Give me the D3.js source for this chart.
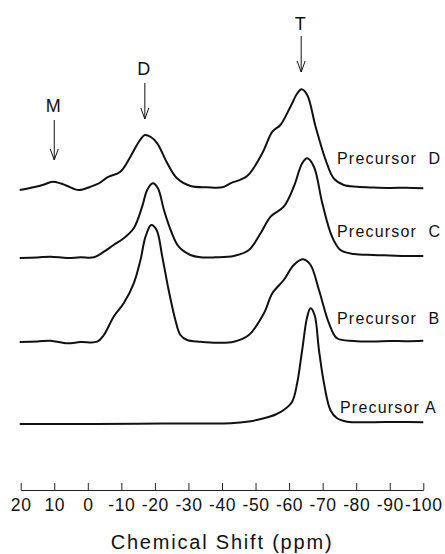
<!DOCTYPE html>
<html>
<head>
<meta charset="utf-8">
<script src="https://cdn.jsdelivr.net/npm/d3@7"></script>
<style>
  body { margin: 0; background: #fff; }
  svg text { font-family: "Liberation Sans", Arial, sans-serif; fill: #111; }
</style>
</head>
<body>
<svg id="chart" width="445" height="554"></svg>
<script>
// x axis ticks (ppm)
const ppmTicks = [20, 10, 0, -10, -20, -30, -40, -50, -60, -70, -80, -90, -100];

// peak markers
const peakLabels = ['M', 'D', 'T'];
const peakShifts = [10, -17, -63.6];

// spectra: [ppm, intensity above own baseline]
const precursorD = [
  [20.3, 0], [16.2, 2.7], [13, 5.5], [10.6, 8.3], [8, 6.5], [6.1, 4], [2.7, 0], [-0.8, 3.3],
  [-3.5, 7], [-5.8, 12.7], [-9.7, 18.3], [-12.7, 33.3], [-15, 47], [-17.0, 55], [-18.8, 53],
  [-20.7, 46.7], [-23.7, 26.7], [-26.6, 11.7], [-30.6, 4], [-35.6, 2.7], [-40.1, 2.7],
  [-42.5, 6.7], [-47.5, 14], [-52, 36.7], [-55, 58.3], [-57.4, 65], [-60.4, 83.3],
  [-62.5, 97], [-63.7, 100.7], [-65.4, 95], [-67.9, 63.3], [-70.9, 30], [-73.3, 11.7],
  [-76.3, 5], [-80.3, 3.3], [-85, 2.5], [-90.2, 2], [-95, 2.3], [-100, 1.7]
];
const precursorC = [
  [20.3, 0], [15, 0.5], [11.1, 1.3], [6.1, 0], [2.2, 0.7], [-1.8, 0.7], [-4.8, 6.3],
  [-7.7, 13], [-10.7, 19.7], [-13.7, 29.7], [-16.2, 51.3], [-17.7, 68], [-19.4, 74.7],
  [-20.9, 69.7], [-22.7, 48], [-24.7, 28], [-27.1, 11.3], [-30.6, 3], [-33.6, 0.7],
  [-38, 0.7], [-43.5, 2], [-48, 8], [-51.5, 24.7],
  [-54.5, 41.3], [-58.4, 51.3], [-61.4, 71.3], [-63.9, 94.7], [-65.4, 99.7], [-67.4, 91.3],
  [-69.9, 54.7], [-72.8, 21.3], [-75.3, 8], [-79.3, 4], [-85, 3], [-90, 2.5], [-95, 2], [-100, 2]
];
const precursorB = [
  [20.3, 0], [15, 0.5], [11.1, 1.3], [6.1, -1.3], [2.2, 0], [-2.8, 0.3], [-4.8, 7],
  [-7.7, 25.3], [-10.7, 38.7], [-13.7, 58.7], [-15.7, 82], [-17.2, 105.3], [-18.9, 117],
  [-20.5, 112], [-22.2, 85.3], [-24.1, 52], [-26.1, 22], [-27.6, 7], [-29.6, 2],
  [-33.6, 0.3], [-38.6, -0.7], [-43.5, 0.3], [-48, 7],
  [-52.5, 28.7], [-55, 48.7], [-58.4, 62], [-61.4, 77], [-64.2, 82.7], [-66.4, 77],
  [-68.9, 52], [-71.9, 18.7], [-74.3, 3.7], [-79.3, 1], [-85, 0.5], [-90, 1], [-95, 0.8], [-100, 1.3]
];
const precursorA = [
  [20.3, 0], [10, 0], [-2, 0], [-15, 0.3], [-30, 0.5], [-42.6, 0.7], [-48, 2.5],
  [-52.5, 5.7], [-56, 9.5], [-58.4, 14], [-60.9, 22.3], [-62.4, 40.7], [-63.9, 74],
  [-65.4, 107.3], [-66.4, 115.7], [-67.6, 109], [-68.9, 74], [-70.4, 40.7], [-72.3, 14],
  [-74.3, 5.7], [-77.3, 2.3], [-85, 1.8], [-92, 2], [-100, 1.7]
];

const spectra = [precursorD, precursorC, precursorB, precursorA];
const spectrumLabels = ['Precursor  D', 'Precursor  C', 'Precursor  B', 'Precursor A'];

const svg = d3.select('#chart');

const x = d3.scaleLinear().domain([20, -100]).range([20.7, 423.3]);
// vertical scale: stacked intensity, 0 = axis line
const y = d3.scaleLinear().domain([0, 490]).range([490, 0]);

// stacking offsets and label placement
const offsets = [300, 232, 148, 66];
const labelX = [337, 337, 337, 340];
const labelY = [164, 237, 324, 413];

const line = d3.line()
  .x(d => x(d[0]))
  .curve(d3.curveCatmullRom.alpha(0.5));

spectra.forEach((s, i) => {
  svg.append('path')
    .datum(s)
    .attr('fill', 'none')
    .attr('stroke', '#111')
    .attr('stroke-width', 2)
    .attr('stroke-linejoin', 'round')
    .attr('d', line.y(d => y(d[1] + offsets[i])));

  svg.append('text')
    .attr('x', labelX[i])
    .attr('y', labelY[i])
    .style('font-size', '16px')
    .style('letter-spacing', '1.2px')
    .style('white-space', 'pre')
    .text(spectrumLabels[i]);
});

// peak arrows
const arrowTop = [120, 83, 36];
const arrowTip = [160, 119, 72];
const labelBase = [112, 75, 30];

peakLabels.forEach((lab, i) => {
  const px = x(peakShifts[i]);
  const g = svg.append('g').attr('stroke', '#111').attr('stroke-width', 1).attr('fill', 'none');
  g.append('line').attr('x1', px).attr('x2', px).attr('y1', arrowTop[i]).attr('y2', arrowTip[i]);
  g.append('path')
    .attr('d', `M${px - 4},${arrowTip[i] - 11}L${px},${arrowTip[i]}L${px + 4},${arrowTip[i] - 11}`);
  svg.append('text')
    .attr('x', px - 1)
    .attr('y', labelBase[i])
    .attr('text-anchor', 'middle')
    .style('font-size', '18px')
    .text(lab);
});

// x axis, ticks pointing up
const xAxis = d3.axisBottom(x)
  .tickValues(ppmTicks)
  .tickFormat(d => String(d))
  .tickSizeInner(-7)
  .tickSizeOuter(0)
  .tickPadding(9);

const ax = svg.append('g')
  .attr('transform', 'translate(0,490)')
  .call(xAxis);
ax.select('.domain').attr('stroke', '#222');
ax.selectAll('.tick line').attr('stroke', '#222');
ax.selectAll('.tick text')
  .style('font-size', '17.5px')
  .style('letter-spacing', '0.6px')
  .attr('fill', '#111');

svg.append('text')
  .attr('x', 222)
  .attr('y', 549)
  .attr('text-anchor', 'middle')
  .style('font-size', '20px')
  .style('letter-spacing', '1.8px')
  .text('Chemical Shift (ppm)');
</script>
</body>
</html>
